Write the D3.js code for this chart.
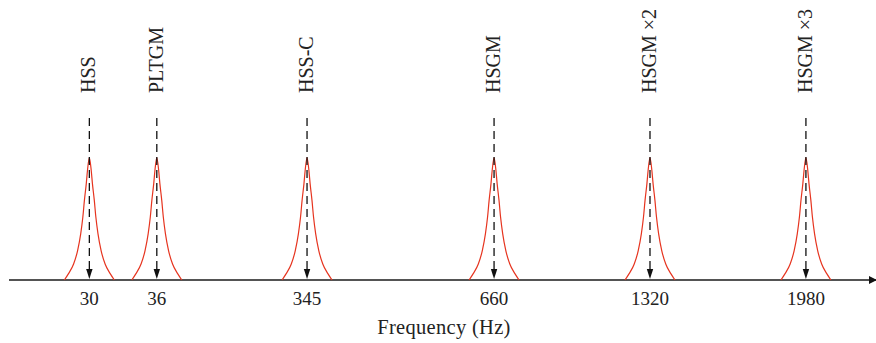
<!DOCTYPE html>
<html>
<head>
<meta charset="utf-8">
<script src="https://cdn.jsdelivr.net/npm/d3@7/dist/d3.min.js"></script>
<style>
html,body{margin:0;padding:0;background:#fff;}
svg{display:block;}
</style>
</head>
<body>
<svg id="chart" width="876" height="343"></svg>
<script>
// ---- data ----
const categories = ["HSS", "PLTGM", "HSS-C", "HSGM", "HSGM \u00d72", "HSGM \u00d73"];
const frequencies = [30, 36, 345, 660, 1320, 1980];
const tickLabels = ["30", "36", "345", "660", "1320", "1980"];
const peakAmplitude = [1, 1, 1, 1, 1, 1];
// peak profile: offset (fraction of half-width) vs relative height
const profileOffset = [0, 0.074, 0.123, 0.198, 0.26, 0.346, 0.47, 0.63, 0.84, 1];
const profileHeight = [1, 0.896, 0.787, 0.65, 0.514, 0.377, 0.24, 0.13, 0.05, 0];

// ---- layout ----
const W = 876, H = 343;
const axisY = 280, peakTopY = 157.5, arrowTopY = 118;
const slotFrac = [0.102, 0.179, 0.3505, 0.564, 0.742, 0.920]; // broken (non-linear) axis positions
const halfWidth = 25;
const red = "#e6341f";
const serif = "'Liberation Serif', 'DejaVu Serif', serif";

const svg = d3.select("#chart");

const x = d3.scaleLinear().domain(frequencies).range(slotFrac.map(f => f * W));
const y = d3.scaleLinear().domain([0, 1]).range([axisY, peakTopY]);

// axis line with arrow
svg.append("defs").append("marker")
  .attr("id", "axArrow").attr("viewBox", "0 0 10 10")
  .attr("refX", 10).attr("refY", 5)
  .attr("markerWidth", 8).attr("markerHeight", 10)
  .attr("markerUnits", "userSpaceOnUse").attr("orient", "auto")
  .append("path").attr("d", "M0,0 L10,5 L0,10 Z").attr("fill", "#111");

svg.append("line")
  .attr("x1", 9).attr("x2", 877).attr("y1", axisY).attr("y2", axisY)
  .attr("stroke", "#1a1a1a").attr("stroke-width", 1.5)
  .attr("marker-end", "url(#axArrow)");

// peaks
const lineGen = d3.line().x(d => d[0]).y(d => d[1]).curve(d3.curveMonotoneX);
const peaks = svg.append("g");
frequencies.forEach((f, i) => {
  const cx = x(f);
  const left = profileOffset.map((o, k) => [cx - o * halfWidth, y(profileHeight[k] * peakAmplitude[i])]).reverse();
  const right = profileOffset.slice(1).map((o, k) => [cx + o * halfWidth, y(profileHeight[k + 1] * peakAmplitude[i])]);
  peaks.append("path").attr("d", lineGen(left.concat(right)))
    .attr("fill", "none").attr("stroke", red).attr("stroke-width", 1.2);
});

// dashed arrows
const arrows = svg.append("g");
frequencies.forEach((f, i) => {
  const cx = x(f);
  arrows.append("line")
    .attr("x1", cx).attr("x2", cx).attr("y1", arrowTopY).attr("y2", axisY - 9)
    .attr("stroke", "#111").attr("stroke-width", 1.3).attr("stroke-dasharray", "8,5");
  arrows.append("path")
    .attr("d", `M${cx - 3.2},${axisY - 11} L${cx + 3.2},${axisY - 11} L${cx},${axisY - 1} Z`)
    .attr("fill", "#111");
});

// rotated category labels
svg.append("g").selectAll("text").data(categories).join("text")
  .attr("transform", (d, i) => `translate(${x(frequencies[i]) + 6},93) rotate(-90)`)
  .attr("font-family", serif)
  .attr("font-size", 20).attr("fill", "#222")
  .text(d => d);

// tick labels
svg.append("g").selectAll("text").data(tickLabels).join("text")
  .attr("x", (d, i) => x(frequencies[i]))
  .attr("y", 305)
  .attr("text-anchor", "middle")
  .attr("font-family", serif)
  .attr("font-size", 19).attr("fill", "#222")
  .text(d => d);

// axis title
svg.append("text")
  .attr("x", 444).attr("y", 334).attr("text-anchor", "middle")
  .attr("font-family", serif)
  .attr("font-size", 20.5).attr("fill", "#222")
  .attr("letter-spacing", 0.3)
  .text("Frequency (Hz)");
</script>
</body>
</html>
